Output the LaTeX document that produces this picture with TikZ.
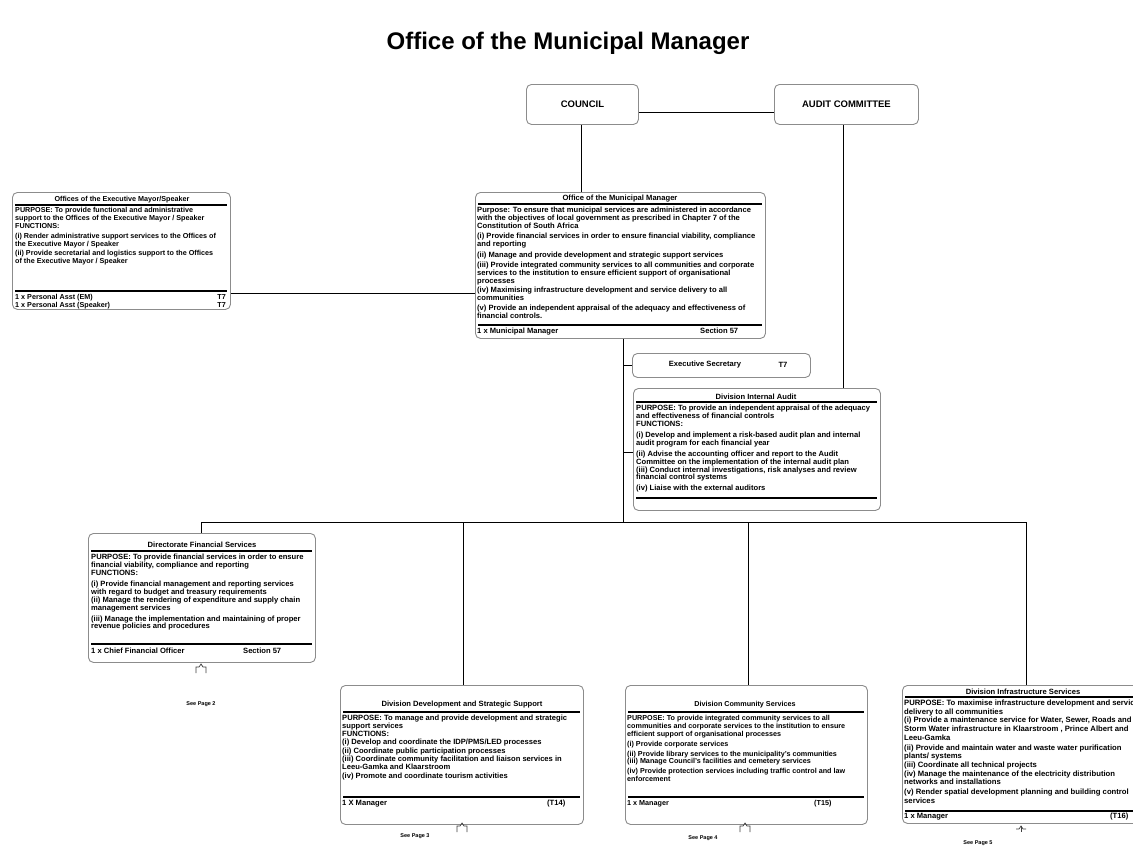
\documentclass[tikz,border=0pt]{standalone}
\usepackage{fontspec}
\setmainfont{Liberation Sans}
\newcommand\bx{\bfseries\fontsize{7.6}{7.9}\selectfont}
\newcommand\bxs{\bfseries\fontsize{7.2}{7.9}\selectfont}
\newcommand\bxw{\bfseries\fontsize{7.7}{8.6}\selectfont}
\begin{document}
\begin{tikzpicture}[x=1pt,y=-1pt,
  box/.style={draw=black!45, line width=0.9pt, rounded corners=5pt, fill=white, inner sep=0pt, anchor=north west},
  body/.style={inner sep=0pt, anchor=north west, align=left, font=\bx},
  ttl/.style={inner sep=0pt, font=\bx},
  hrule/.style={line width=1.6pt},
  link/.style={line width=1pt},
  pg/.style={line width=0.7pt, black!75},
  see/.style={font=\bfseries\fontsize{5.5}{6}\selectfont, inner sep=0pt},
  topbox/.style={draw=black!45, line width=0.9pt, rounded corners=5pt, fill=white, font=\bfseries\fontsize{9.5}{10}\selectfont, anchor=north west, inner sep=0pt}
]
\clip (0,0) rectangle (1133,846);
\fill[white] (0,0) rectangle (1133,846);

% title
\node[font=\bfseries\fontsize{24}{26}\selectfont, inner sep=0pt] (title) at (568,43) {Office of the Municipal Manager};

% top boxes
\node[topbox, minimum width=112, minimum height=40] (council) at (526,84) {COUNCIL};
\node[topbox, minimum width=144, minimum height=40] (audit) at (774,84) {AUDIT COMMITTEE};

% ---------------- boxes ----------------
\node[box, minimum width=218, minimum height=117] (mayor) at (12,192) {};
\node[box, minimum width=290, minimum height=146] (mm) at (475,192) {};
\node[box, minimum width=178, minimum height=24] (sec) at (632,353) {};
\node[box, minimum width=247, minimum height=122] (ia) at (633,388) {};
\node[box, minimum width=227, minimum height=129] (fin) at (88,533) {};
\node[box, minimum width=243, minimum height=139] (dev) at (340,685) {};
\node[box, minimum width=242, minimum height=139] (com) at (625,685) {};
\node[box, minimum width=245, minimum height=138] (inf) at (902,685) {};

% ---------------- connectors ----------------
\coordinate (bus) at (623,522);
\draw[link] (council.east |- 0,112) -- (audit.west |- 0,112);
\draw[link] (council.south -| 581,0) -- (mm.north -| 581,0);
\draw[link] (audit.south -| 843,0) -- (ia.north -| 843,0);
\draw[link] (mayor.east |- 0,293) -- (mm.west |- 0,293);
\draw[link] (mm.south -| 623,0) -- (bus);
\draw[link] (623,365) -- (sec.west |- 0,365);
\draw[link] (623,452) -- (ia.west |- 0,452);
\draw[link] (201,522) -- (1026,522);
\draw[link] (201,522) -- (fin.north -| 201,0);
\draw[link] (463,522) -- (dev.north -| 463,0);
\draw[link] (748,522) -- (com.north -| 748,0);
\draw[link] (1026,522) -- (inf.north -| 1026,0);

% ---------------- Executive Mayor ----------------
\node[ttl, font=\bxs] (mayorT) at (122,200) {Offices of the Executive Mayor/Speaker};
\draw[hrule] (15,205) -- (227,205);
\node[body, font=\bxs] (mayorB) at (15,207) {PURPOSE: To provide functional and administrative\\
support to the Offices of the Executive Mayor / Speaker\\
FUNCTIONS:\\[2pt]
(i) Render administrative support services to the Offices of\\
the Executive Mayor / Speaker\\[2pt]
(ii) Provide secretarial and logistics support to the Offices\\
of the Executive Mayor / Speaker};
\draw[hrule] (15,291) -- (227,291);
\node[body, font=\bxs] (mayorF) at (15,294) {1 x Personal Asst (EM)\\1 x Personal  Asst (Speaker)};
\node[body, font=\bxs, anchor=north east, align=right] (mayorG) at (226,294) {T7\\T7};

% ---------------- Municipal Manager ----------------
\node[ttl] (mmT) at (620,199) {Office of the Municipal Manager};
\draw[hrule] (478,204) -- (762,204);
\node[body] (mmB) at (477,207) {Purpose: To ensure that municipal services are administered in accordance\\
with the objectives of local government as prescribed in Chapter 7 of the\\
Constitution of South Africa\\[2.5pt]
(i) Provide financial services in order to ensure financial viability, compliance\\
and reporting\\[2.5pt]
(ii) Manage and provide development and strategic  support services\\[2.5pt]
(iii) Provide integrated community services to all communities and corporate\\
services to the institution to ensure efficient support of organisational\\
processes\\[1pt]
(iv) Maximising infrastructure development and service delivery to all\\
communities\\[2.5pt]
(v) Provide an independent  appraisal of the adequacy and effectiveness of\\
financial controls.};
\draw[hrule] (478,325) -- (762,325);
\node[body] (mmF) at (477,328) {1 x Municipal Manager};
\node[body] (mmG) at (700,328) {Section 57};

% ---------------- Executive Secretary ----------------
\node[ttl] (secT) at (705,365) {Executive Secretary};
\node[ttl] (secG) at (783,365) {T7};

% ---------------- Internal Audit ----------------
\node[ttl] (iaT) at (756,397) {Division Internal Audit};
\draw[hrule] (636,402) -- (877,402);
\node[body] (iaB) at (636,405) {PURPOSE: To provide an independent appraisal of the adequacy\\
and effectiveness of financial controls\\
FUNCTIONS:\\[3pt]
(i) Develop and implement a risk-based audit plan and internal\\
audit program for each financial year\\[3pt]
(ii) Advise the accounting officer and report to the Audit\\
Committee on the implementation of the internal audit plan\\
(iii) Conduct internal investigations, risk analyses and review\\
financial control systems\\[3pt]
(iv) Liaise with the external auditors};
\draw[hrule] (636,498) -- (877,498);

% ---------------- Financial ----------------
\node[ttl] (finT) at (202,545) {Directorate Financial Services};
\draw[hrule] (91,551) -- (312,551);
\node[body] (finB) at (91,554) {PURPOSE: To provide financial services in order to ensure\\
financial viability, compliance and reporting\\
FUNCTIONS:\\[3pt]
(i) Provide financial management and reporting services\\
with regard to budget and treasury requirements\\
(ii) Manage the rendering of expenditure and supply chain\\
management services\\[3pt]
(iii) Manage the implementation and maintaining of proper\\
revenue policies and procedures};
\draw[hrule] (91,644) -- (312,644);
\node[body] (finF) at (91,648) {1 x Chief Financial Officer};
\node[body] (finG) at (243,648) {Section 57};
\draw[pg] (196,673) -- (196,667) -- (199,667) -- (201,664) -- (203,667) -- (206,667) -- (206,673);
\node[see] (finS) at (201,704) {See Page 2};

% ---------------- Development ----------------
\node[ttl] (devT) at (462,705) {Division Development and Strategic Support};
\draw[hrule] (343,712) -- (580,712);
\node[body] (devB) at (342,715) {PURPOSE: To manage and provide development and strategic\\
support services\\
FUNCTIONS:\\
(i) Develop and coordinate the IDP/PMS/LED processes\\[1pt]
(ii) Coordinate public participation processes\\
(iii) Coordinate community facilitation and liaison services in\\
Leeu-Gamka and Klaarstroom\\[1pt]
(iv) Promote and coordinate tourism activities};
\draw[hrule] (343,797) -- (580,797);
\node[body] (devF) at (342,800) {1 X Manager};
\node[body] (devG) at (547,800) {(T14)};
\draw[pg] (457,832) -- (457,826) -- (460,826) -- (462,823) -- (464,826) -- (467,826) -- (467,832);
\node[see] (devS) at (415,836) {See Page 3};

% ---------------- Community ----------------
\node[ttl, font=\bxs] (comT) at (745,705) {Division Community Services};
\draw[hrule] (628,712) -- (864,712);
\node[body, font=\bxs] (comB) at (627,715) {PURPOSE:  To provide integrated community services to all\\
communities and corporate services to the institution to ensure\\
efficient support of organisational processes\\[2pt]
(i) Provide corporate services\\[2pt]
(ii) Provide library services to the municipality's communities\\
(iii) Manage Council's facilities and cemetery services\\[2pt]
(iv) Provide protection services including traffic control and law\\
enforcement};
\draw[hrule] (628,797) -- (864,797);
\node[body, font=\bxs] (comF) at (627,800) {1 x Manager};
\node[body, font=\bxs] (comG) at (814,800) {(T15)};
\draw[pg] (740,832) -- (740,826) -- (743,826) -- (745,823) -- (747,826) -- (750,826) -- (750,832);
\node[see] (comS) at (703,838) {See Page 4};

% ---------------- Infrastructure ----------------
\node[ttl] (infT) at (1023,692) {Division Infrastructure Services};
\draw[hrule] (905,697) -- (1140,697);
\node[body, font=\bxw] (infB) at (904,700) {PURPOSE: To maximise infrastructure development and service\\
delivery to all communities\\
(i) Provide a maintenance service for Water, Sewer, Roads and\\
Storm Water infrastructure in Klaarstroom , Prince Albert and\\
Leeu-Gamka\\[1.5pt]
(ii) Provide and maintain water and waste water purification\\
plants/ systems\\
(iii) Coordinate all technical projects\\
(iv) Manage the maintenance of the electricity distribution\\
networks and installations\\[1.5pt]
(v) Render spatial development planning and building control\\
services};
\draw[hrule] (905,811) -- (1140,811);
\node[body] (infF) at (904,813) {1 x Manager};
\node[body] (infG) at (1110,813) {(T16)};
\draw[pg] (1016,829) -- (1019,829) -- (1021,826) -- (1023,829) -- (1026,829);
\draw[pg] (1021,826) -- (1021,832);
\node[see] (infS) at (978,843) {See Page 5};
\end{tikzpicture}
\end{document}
